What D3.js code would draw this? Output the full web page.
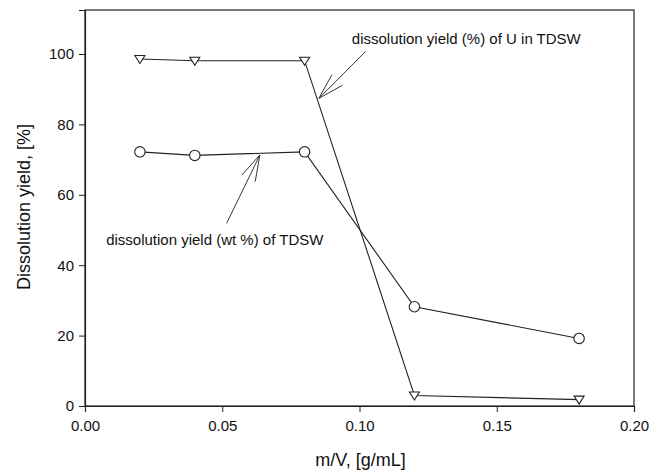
<!DOCTYPE html>
<html>
<head>
<meta charset="utf-8">
<script src="https://cdn.jsdelivr.net/npm/d3@7"></script>
<style>
  body { margin: 0; background: #fff; }
  svg { display: block; font-family: Arial, "Liberation Sans", sans-serif; }
</style>
</head>
<body>
<div id="plot"></div>
<script>
const w = 653;
const h = 471;
const margin = { top: 10, right: 19, bottom: 65, left: 85 };

// data
const ratio = [0.02, 0.04, 0.08, 0.12, 0.18];
const uYield = [98.6, 98.1, 98.1, 3.0, 1.8];
const wtYield = [72.2, 71.2, 72.2, 28.2, 19.2];

const xTicks = [0, 0.05, 0.10, 0.15, 0.20];
const yTicks = [0, 20, 40, 60, 80, 100];

// annotations, in data units
const noteText = ["dissolution yield (%) of U in TDSW", "dissolution yield (wt %) of TDSW"];
const noteAt = [[0.0972, 102.8], [0.0077, 45.8]];
const arrowFrom = [[0.1022, 100.7], [0.0516, 51.9]];
const arrowTo = [[0.0852, 87.4], [0.0637, 71.3]];

const xScale = d3.scaleLinear().domain([0, 0.2]).range([margin.left, w - margin.right]);
const yScale = d3.scaleLinear().domain([0, 112.5]).range([h - margin.bottom, margin.top]);

const svg = d3.select("#plot").append("svg").attr("width", w).attr("height", h);

// frame
svg.append("rect")
  .attr("x", margin.left).attr("y", margin.top)
  .attr("width", w - margin.left - margin.right)
  .attr("height", h - margin.top - margin.bottom)
  .attr("fill", "none").attr("stroke", "#222").attr("stroke-width", 1.2);

const xAxis = d3.axisBottom(xScale).tickValues(xTicks).tickFormat(d3.format(".2f")).tickSizeOuter(0).tickSize(6).tickPadding(8);
const yAxis = d3.axisLeft(yScale).tickValues(yTicks).tickFormat(d3.format("d")).tickSizeOuter(0).tickSize(6).tickPadding(5);

const gx = svg.append("g").attr("transform", "translate(0," + (h - margin.bottom) + ")").call(xAxis);
const gy = svg.append("g").attr("transform", "translate(" + margin.left + ",0)").call(yAxis);
[gx, gy].forEach(g => {
  g.select(".domain").attr("stroke", "#222").attr("stroke-width", 1.2);
  g.selectAll(".tick line").attr("stroke", "#222");
  g.selectAll("text").attr("font-size", 15).attr("font-family", "Arial, 'Liberation Sans', sans-serif").attr("fill", "#111");
});

svg.append("text")
  .attr("x", (margin.left + w - margin.right) / 2 + 1).attr("y", 466)
  .attr("text-anchor", "middle").attr("font-size", 18).attr("fill", "#111")
  .text("m/V, [g/mL]");

svg.append("text")
  .attr("transform", "translate(30,207) rotate(-90)")
  .attr("text-anchor", "middle").attr("font-size", 18).attr("fill", "#111")
  .text("Dissolution yield, [%]");

const line = d3.line().x(d => xScale(d[0])).y(d => yScale(d[1]));
const uPts = ratio.map((x, i) => [x, uYield[i]]);
const wtPts = ratio.map((x, i) => [x, wtYield[i]]);

[uPts, wtPts].forEach(pts => {
  svg.append("path").datum(pts).attr("d", line)
    .attr("fill", "none").attr("stroke", "#222").attr("stroke-width", 1.1);
});

svg.selectAll("circle.wt").data(wtPts).enter().append("circle")
  .attr("class", "wt")
  .attr("cx", d => xScale(d[0])).attr("cy", d => yScale(d[1])).attr("r", 5.2)
  .attr("fill", "#fff").attr("stroke", "#222").attr("stroke-width", 1.1);

svg.selectAll("path.u").data(uPts).enter().append("path")
  .attr("class", "u")
  .attr("transform", d => "translate(" + xScale(d[0]) + "," + yScale(d[1]) + ")")
  .attr("d", "M-5,-3.5L5,-3.5L0,4.5Z")
  .attr("fill", "#fff").attr("stroke", "#222").attr("stroke-width", 1.1);

// annotations with open arrowheads
noteText.forEach((t, i) => {
  svg.append("text")
    .attr("x", xScale(noteAt[i][0])).attr("y", yScale(noteAt[i][1]))
    .attr("font-size", 15).attr("fill", "#111").text(t);

  const x0 = xScale(arrowFrom[i][0]), y0 = yScale(arrowFrom[i][1]);
  const x1 = xScale(arrowTo[i][0]), y1 = yScale(arrowTo[i][1]);
  svg.append("line").attr("x1", x0).attr("y1", y0).attr("x2", x1).attr("y2", y1)
    .attr("stroke", "#222").attr("stroke-width", 0.9);
  const a = Math.atan2(y0 - y1, x0 - x1);
  [-0.28, 0.28].forEach(da => {
    svg.append("line")
      .attr("x1", x1).attr("y1", y1)
      .attr("x2", x1 + 27 * Math.cos(a + da)).attr("y2", y1 + 27 * Math.sin(a + da))
      .attr("stroke", "#222").attr("stroke-width", 0.9);
  });
});
</script>
</body>
</html>
